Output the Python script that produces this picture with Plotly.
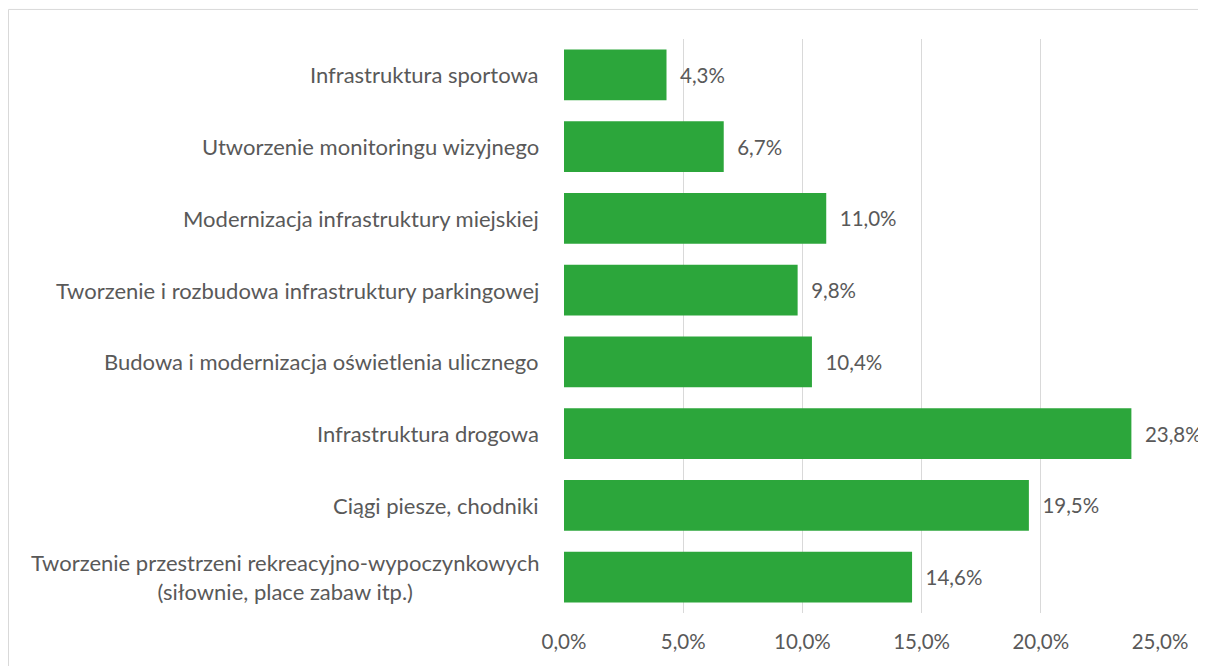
import plotly.graph_objects as go

categories = [
    "Infrastruktura sportowa",
    "Utworzenie monitoringu wizyjnego",
    "Modernizacja infrastruktury miejskiej",
    "Tworzenie i rozbudowa infrastruktury parkingowej",
    "Budowa i modernizacja oświetlenia ulicznego",
    "Infrastruktura drogowa",
    "Ciągi piesze, chodniki",
    "Tworzenie przestrzeni rekreacyjno-wypoczynkowych<br>(siłownie, place zabaw itp.)",
]
values = [4.3, 6.7, 11.0, 9.8, 10.4, 23.8, 19.5, 14.6]
tick_vals = [0, 5, 10, 15, 20, 25]
tick_text = ["0,0%", "5,0%", "10,0%", "15,0%", "20,0%", "25,0%"]

FONT = "Lato"
TXT = "#595959"
FS = 22
FSN = 20.5

fig = go.Figure(go.Bar(
    x=values, y=categories, orientation="h",
    marker=dict(color="#2CA63B", line=dict(width=0)),
    text=["\u00a0\u00a0" + f"{v:.1f}%".replace(".", ",") for v in values],
    textposition="outside", cliponaxis=False,
    textfont=dict(family=FONT, size=FSN, color=TXT),
    width=0.71,
))

annotations = [
    dict(x=0, y=c, xref="x domain", yref="y", text=c, showarrow=False,
         xanchor="right", yanchor="middle", align="center", xshift=-23,
         font=dict(family=FONT, size=FS, color=TXT))
    for c in categories
]

fig.update_layout(
    width=1198, height=658,
    margin=dict(l=556, r=46, t=31, b=53),
    paper_bgcolor="white", plot_bgcolor="white",
    showlegend=False,
    annotations=annotations,
    xaxis=dict(range=[0, 25], tickvals=tick_vals, ticktext=tick_text,
               showgrid=True, gridcolor="#D9D9D9", gridwidth=1,
               zeroline=False, showline=False, ticklabelstandoff=14,
               tickfont=dict(family=FONT, size=FSN, color=TXT), ticklen=0),
    yaxis=dict(categoryorder="array", categoryarray=categories,
               autorange="reversed", showticklabels=False, showgrid=False,
               zeroline=False, showline=False),
    shapes=[dict(type="rect", xref="paper", yref="paper",
                 x0=-0.932, x1=1.067, y0=-0.2, y1=1.0515,
                 line=dict(color="#D9D9D9", width=1), fillcolor="rgba(0,0,0,0)",
                 layer="below")],
)

fig.write_html("out.html")
